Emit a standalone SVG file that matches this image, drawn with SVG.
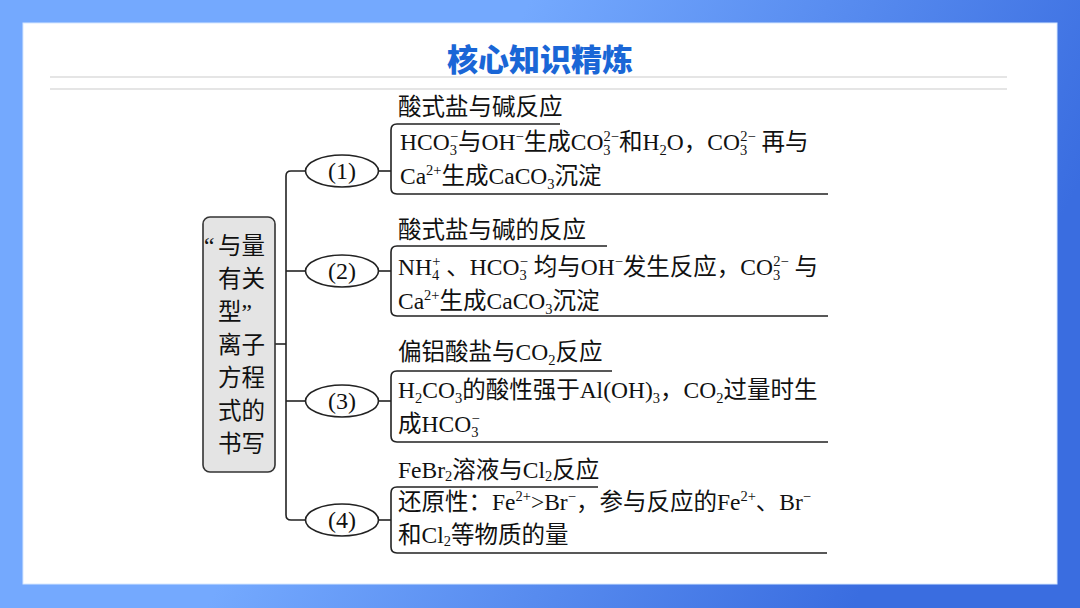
<svg xmlns="http://www.w3.org/2000/svg" width="1080" height="608" viewBox="0 0 1080 608">
<defs>
<linearGradient id="bg" x1="0" y1="0" x2="1" y2="0.3">
<stop offset="0" stop-color="#74a9fe"/>
<stop offset="0.45" stop-color="#74a9fe"/>
<stop offset="1" stop-color="#3a6de0"/>
</linearGradient>
<style>
.t{font-family:"Liberation Serif","Noto Sans CJK SC",serif;font-size:23.5px;fill:#111}
.s{font-size:14.5px}
.ln{fill:none;stroke:#222;stroke-width:1.6}
.el{fill:#fff;stroke:#222;stroke-width:1.6}
.gl{stroke:#dcdcdc;stroke-width:1.5}
</style>
</defs>
<rect x="0" y="0" width="1080" height="608" fill="url(#bg)"/>
<rect x="23" y="23" width="1034" height="561" fill="#fff" stroke="#d6e8ff" stroke-width="1"/>
<text x="540" y="71" text-anchor="middle" style="font-family:'Noto Sans CJK SC',sans-serif;font-weight:900;font-size:31px;fill:#1a66d6">核心知识精炼</text>
<line class="gl" x1="50" y1="77" x2="1007" y2="77"/>
<line class="gl" x1="50" y1="89" x2="1007" y2="89"/>

<g id="connectors">
<path class="ln" d="M275,344 H286"/>
<path class="ln" d="M305.5,171 H291 Q286,171 286,176 V515 Q286,520 291,520 H305.5"/>
<path class="ln" d="M286,271 H305.5"/>
<path class="ln" d="M286,401 H305.5"/>
<path class="ln" d="M378.5,171 H391"/>
<path class="ln" d="M378.5,271 H391"/>
<path class="ln" d="M378.5,401 H391"/>
<path class="ln" d="M378.5,520 H391"/>
</g>

<g id="root">
<rect x="203" y="217" width="72" height="255" rx="7" fill="#e4e4e4" stroke="#333" stroke-width="1.6"/>
<text class="t"><tspan x="204" y="254">“</tspan><tspan x="218" y="254">与量</tspan><tspan x="218" y="287">有关</tspan><tspan x="218" y="320">型”</tspan><tspan x="218" y="353">离子</tspan><tspan x="218" y="386">方程</tspan><tspan x="218" y="419">式的</tspan><tspan x="218" y="452">书写</tspan></text>
</g>

<g id="n1">
<ellipse class="el" cx="342" cy="171" rx="36.5" ry="16"/>
<text class="t" x="342" y="179" text-anchor="middle" style="font-size:24px">(1)</text>
</g>
<g id="n2">
<ellipse class="el" cx="342" cy="271" rx="36.5" ry="16"/>
<text class="t" x="342" y="279" text-anchor="middle" style="font-size:24px">(2)</text>
</g>
<g id="n3">
<ellipse class="el" cx="342" cy="401" rx="36.5" ry="16"/>
<text class="t" x="342" y="409" text-anchor="middle" style="font-size:24px">(3)</text>
</g>
<g id="n4">
<ellipse class="el" cx="342" cy="520" rx="36.5" ry="16"/>
<text class="t" x="342" y="528" text-anchor="middle" style="font-size:24px">(4)</text>
</g>

<g id="b1">
<path class="ln" d="M560,124 H397 Q391,124 391,130 V188 Q391,194 397,194 H828"/>
<text class="t" x="398" y="115">酸式盐与碱反应</text>
<text class="t" x="400" y="150">HCO<tspan class="s" dy="5">3</tspan><tspan class="s" dx="-7" dy="-14">−</tspan><tspan dy="9">与OH</tspan><tspan class="s" dy="-9">−</tspan><tspan dy="9">生成CO</tspan><tspan class="s" dy="5">3</tspan><tspan class="s" dx="-7" dy="-14">2−</tspan><tspan dy="9">和H</tspan><tspan class="s" dy="5">2</tspan><tspan dy="-5">O，CO</tspan><tspan class="s" dy="5">3</tspan><tspan class="s" dx="-7" dy="-14">2−</tspan><tspan dy="9"> 再与</tspan></text>
<text class="t" x="400" y="184">Ca<tspan class="s" dy="-9">2+</tspan><tspan dy="9">生成CaCO</tspan><tspan class="s" dy="5">3</tspan><tspan dy="-5">沉淀</tspan></text>
</g>

<g id="b2">
<path class="ln" d="M607,246 H397 Q391,246 391,252 V310 Q391,316 397,316 H828"/>
<text class="t" x="398" y="238">酸式盐与碱的反应</text>
<text class="t" x="398" y="275">NH<tspan class="s" dy="5">4</tspan><tspan class="s" dx="-7" dy="-14">+</tspan><tspan dy="9"> 、HCO</tspan><tspan class="s" dy="5">3</tspan><tspan class="s" dx="-7" dy="-14">−</tspan><tspan dy="9"> 均与OH</tspan><tspan class="s" dy="-9">−</tspan><tspan dy="9">发生反应，CO</tspan><tspan class="s" dy="5">3</tspan><tspan class="s" dx="-7" dy="-14">2−</tspan><tspan dy="9"> 与</tspan></text>
<text class="t" x="398" y="309">Ca<tspan class="s" dy="-9">2+</tspan><tspan dy="9">生成CaCO</tspan><tspan class="s" dy="5">3</tspan><tspan dy="-5">沉淀</tspan></text>
</g>

<g id="b3">
<path class="ln" d="M612,371 H397 Q391,371 391,377 V436 Q391,442 397,442 H828"/>
<text class="t" x="398" y="360">偏铝酸盐与CO<tspan class="s" dy="5">2</tspan><tspan dy="-5">反应</tspan></text>
<text class="t" x="398" y="398">H<tspan class="s" dy="5">2</tspan><tspan dy="-5">CO</tspan><tspan class="s" dy="5">3</tspan><tspan dy="-5">的酸性强于Al(OH)</tspan><tspan class="s" dy="5">3</tspan><tspan dy="-5">，CO</tspan><tspan class="s" dy="5">2</tspan><tspan dy="-5">过量时生</tspan></text>
<text class="t" x="398" y="432">成HCO<tspan class="s" dy="5">3</tspan><tspan class="s" dx="-7" dy="-14">−</tspan></text>
</g>

<g id="b4">
<path class="ln" d="M598,487 H397 Q391,487 391,493 V547 Q391,553 397,553 H827"/>
<text class="t" x="398" y="478">FeBr<tspan class="s" dy="3">2</tspan><tspan dy="-3">溶液与Cl</tspan><tspan class="s" dy="3">2</tspan><tspan dy="-3">反应</tspan></text>
<text class="t" x="398" y="510">还原性：Fe<tspan class="s" dy="-9">2+</tspan><tspan dy="9">&gt;Br</tspan><tspan class="s" dy="-9">−</tspan><tspan dy="9">，参与反应的Fe</tspan><tspan class="s" dy="-9">2+</tspan><tspan dy="9">、Br</tspan><tspan class="s" dy="-9">−</tspan></text>
<text class="t" x="398" y="543">和Cl<tspan class="s" dy="3">2</tspan><tspan dy="-3">等物质的量</tspan></text>
</g>
</svg>
